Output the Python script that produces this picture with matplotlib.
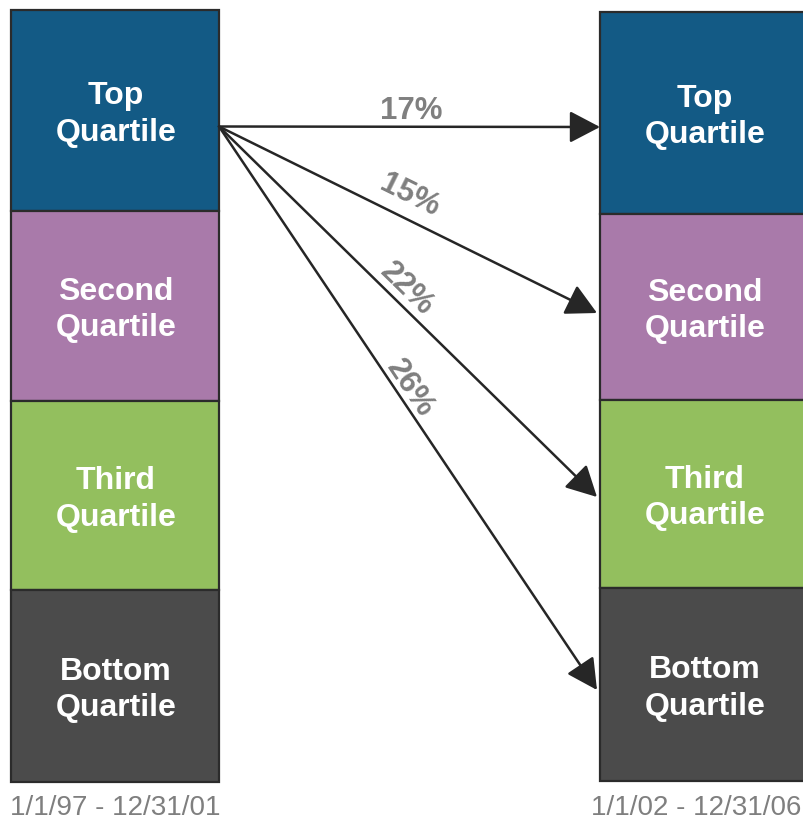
import numpy as np
import matplotlib
matplotlib.use("Agg")
import matplotlib.pyplot as plt

# ---- data ----
quartile_labels = ["Top\nQuartile", "Second\nQuartile", "Third\nQuartile", "Bottom\nQuartile"]
quartile_colors = ["#135a85", "#a97aaa", "#93bf5e", "#4b4b4b"]
left_bounds = [10, 211, 401, 590, 782]     # box edges, left period
right_bounds = [12, 214, 400, 588, 781]    # box edges, right period
transition_pct = [17, 15, 22, 26]          # % of top quartile moving to each quartile
period_labels = ["1/1/97 - 12/31/01", "1/1/02 - 12/31/06"]

# ---- layout ----
W, H = 804, 821
col_left = (11, 219)
col_right = (600, 808)
label_along = [192, 202, 248, 324]
label_offset = [16, 22, 15, 13]

plt.rcParams['font.family'] = ['Liberation Sans', 'DejaVu Sans']
fig = plt.figure(figsize=(W / 100, H / 100), dpi=100)
ax = fig.add_axes([0, 0, 1, 1])
ax.set_xlim(0, W)
ax.set_ylim(H, 0)
ax.axis('off')

edge = "#2b2b2b"
for (x0, x1), bounds in ((col_left, left_bounds), (col_right, right_bounds)):
    cx = (x0 + x1) / 2
    for i, lab in enumerate(quartile_labels):
        b0, b1 = bounds[i], bounds[i + 1]
        ax.bar(cx, b1 - b0, bottom=b0, width=x1 - x0, color=quartile_colors[i],
               edgecolor=edge, linewidth=1.6, zorder=2)
        ax.text(cx + 1, (b0 + b1) / 2 + 4, lab, ha='center', va='center', color='white',
                fontsize=23, fontweight='bold', linespacing=1.3, zorder=3)

# arrows from middle of left top quartile to left edge of right boxes
origin = np.array([col_left[1], (left_bounds[0] + left_bounds[1]) / 2 + 16])
tips = [np.array([col_right[0], 127]), np.array([col_right[0] - 3, 313]),
        np.array([col_right[0] - 3, 497]), np.array([col_right[0] - 3, 690])]
for pct, tip, along, off in zip(transition_pct, tips, label_along, label_offset):
    ax.annotate("", xy=tip, xytext=origin,
                arrowprops=dict(arrowstyle='-|>,head_length=1.05,head_width=0.55',
                                mutation_scale=18, lw=1.8, color="#262626",
                                shrinkA=0, shrinkB=0), zorder=4)
    d = tip - origin
    u = d / np.linalg.norm(d)
    perp = np.array([u[1], -u[0]])
    pos = origin + u * along + perp * off
    ang = -np.degrees(np.arctan2(d[1], d[0]))
    ax.text(pos[0], pos[1], f"{pct}%", ha='center', va='center', rotation=ang,
            rotation_mode='anchor', color="#7f7f7f", fontsize=22.5, fontweight='bold', zorder=5)

ax.text(sum(col_left) / 2, 808, period_labels[0], ha='center', va='center',
        color="#7f7f7f", fontsize=20)
ax.text(sum(col_right) / 2 - 8, 808, period_labels[1], ha='center', va='center',
        color="#7f7f7f", fontsize=20)

fig.savefig("out.png", dpi=100)
